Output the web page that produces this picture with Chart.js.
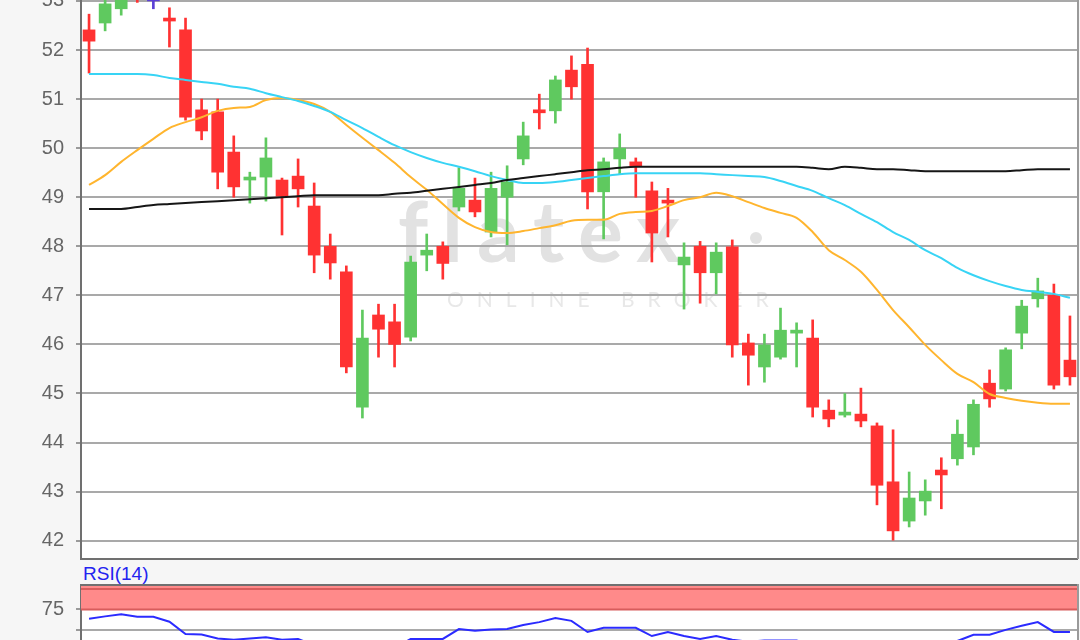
<!DOCTYPE html>
<html>
<head>
<meta charset="utf-8">
<title>Chandeliers + RSI</title>
<script src="https://cdn.jsdelivr.net/npm/chart.js@4.4.1/dist/chart.umd.min.js"></script>
<style>
    html, body { margin: 0; padding: 0; width: 1080px; height: 640px; overflow: hidden; background: #f6f6f6; }
    #cadre_prix { position: absolute; left: 0; top: -40px; width: 1080px; height: 600px; }
    #cadre_rsi  { position: absolute; left: 0; top: 584px; width: 1080px; height: 200px; }
    #titre_rsi  { position: absolute; left: 83px; top: 563px; font: 19px "Liberation Sans", Arial, sans-serif;
                  line-height: 22px; color: #2323f0; }
</style>
</head>
<body>
<div id="cadre_prix"><canvas id="figure_prix"></canvas></div>
<div id="titre_rsi">RSI(14)</div>
<div id="cadre_rsi"><canvas id="figure_rsi"></canvas></div>
<script>
// ── Données ─────────────────────────────────────────────────────────────────
var seances = ['1', '2', '3', '4', '5', '6', '7', '8', '9', '10',
    '11', '12', '13', '14', '15', '16', '17', '18', '19', '20',
    '21', '22', '23', '24', '25', '26', '27', '28', '29', '30',
    '31', '32', '33', '34', '35', '36', '37', '38', '39', '40',
    '41', '42', '43', '44', '45', '46', '47', '48', '49', '50',
    '51', '52', '53', '54', '55', '56', '57', '58', '59', '60',
    '61', '62'];

var ouvertures = [52.41, 52.55, 52.84, 53.40, 53.00, 52.65, 52.41, 50.78, 50.74, 49.92,
    49.35, 49.41, 49.35, 49.43, 48.82, 48.00, 47.48, 44.72, 46.60, 46.46,
    46.15, 47.82, 48.00, 48.80, 48.94, 48.29, 49.00, 49.78, 50.78, 50.76,
    51.59, 51.71, 49.11, 49.78, 49.72, 49.13, 48.94, 47.62, 48.00, 47.46,
    47.99, 46.03, 45.54, 45.74, 46.23, 46.13, 44.66, 44.56, 44.58, 44.34,
    43.20, 42.40, 42.81, 43.44, 43.67, 43.91, 45.21, 45.09, 46.23, 46.93,
    47.00, 45.68];

var hauts = [52.73, 53.10, 53.25, 53.50, 53.30, 52.86, 52.65, 51.00, 51.00, 50.25,
    49.51, 50.21, 49.39, 49.78, 49.29, 48.25, 47.60, 46.70, 46.82, 46.82,
    47.80, 48.25, 48.09, 49.60, 49.39, 49.51, 49.64, 50.53, 51.10, 51.47,
    51.88, 52.04, 49.80, 50.29, 49.80, 49.31, 49.18, 48.07, 48.10, 48.07,
    48.13, 46.21, 46.21, 46.74, 46.44, 46.50, 44.87, 45.00, 45.11, 44.40,
    44.26, 43.40, 43.24, 43.69, 44.46, 44.87, 45.48, 45.93, 46.90, 47.35,
    47.23, 46.58];

var bas = [51.53, 52.39, 52.71, 52.97, 52.84, 52.06, 50.57, 50.17, 49.17, 49.00,
    48.88, 48.92, 48.23, 48.80, 47.46, 47.33, 45.42, 44.50, 45.74, 45.54,
    46.07, 47.50, 47.33, 48.72, 48.60, 48.19, 48.03, 49.66, 50.39, 50.51,
    51.00, 48.76, 48.15, 49.47, 49.00, 47.68, 48.19, 46.72, 46.84, 47.03,
    45.74, 45.17, 45.23, 45.70, 45.54, 44.52, 44.32, 44.52, 44.32, 42.73,
    42.01, 42.28, 42.52, 42.65, 43.54, 43.75, 44.72, 45.05, 45.91, 46.76,
    45.09, 45.17];

var clotures = [52.18, 52.94, 53.10, 53.15, 53.00, 52.59, 50.63, 50.35, 49.51, 49.21,
    49.39, 49.80, 49.02, 49.17, 47.82, 47.66, 45.54, 46.13, 46.31, 46.00,
    47.68, 47.92, 47.65, 49.18, 48.70, 49.18, 49.31, 50.25, 50.72, 51.39,
    51.25, 49.11, 49.72, 50.00, 49.64, 48.27, 48.88, 47.78, 47.46, 47.88,
    45.99, 45.78, 45.99, 46.29, 46.27, 44.72, 44.48, 44.60, 44.44, 43.13,
    42.20, 42.87, 43.01, 43.34, 44.17, 44.78, 44.89, 45.89, 46.78, 47.09,
    45.17, 45.34];

// moyenne courte (orange)
var moyenneCourte = [49.25, 49.45, 49.72, 49.96, 50.19, 50.41, 50.53, 50.63, 50.76, 50.82,
    50.84, 50.98, 51.02, 50.98, 50.90, 50.74, 50.47, 50.21, 49.96, 49.70,
    49.41, 49.15, 48.86, 48.58, 48.39, 48.29, 48.27, 48.31, 48.37, 48.43,
    48.52, 48.54, 48.54, 48.66, 48.70, 48.72, 48.82, 48.94, 49.00, 49.09,
    49.02, 48.90, 48.78, 48.68, 48.58, 48.29, 47.92, 47.72, 47.48, 47.11,
    46.70, 46.35, 45.99, 45.68, 45.40, 45.23, 44.99, 44.91, 44.85, 44.81,
    44.79, 44.79];

// moyenne intermédiaire (cyan)
var moyenneMoyenne = [51.51, 51.51, 51.51, 51.51, 51.49, 51.43, 51.39, 51.35, 51.31, 51.25,
    51.21, 51.12, 51.04, 50.96, 50.86, 50.74, 50.57, 50.41, 50.23, 50.06,
    49.92, 49.80, 49.70, 49.62, 49.53, 49.43, 49.35, 49.29, 49.29, 49.31,
    49.35, 49.39, 49.43, 49.47, 49.49, 49.49, 49.49, 49.49, 49.49, 49.47,
    49.45, 49.43, 49.41, 49.33, 49.23, 49.13, 48.98, 48.84, 48.66, 48.49,
    48.29, 48.13, 47.92, 47.76, 47.56, 47.41, 47.29, 47.19, 47.11, 47.07,
    47.03, 46.95];

// moyenne longue (noir)
var moyenneLongue = [48.76, 48.76, 48.76, 48.80, 48.84, 48.86, 48.88, 48.90, 48.92, 48.94,
    48.96, 48.98, 49.00, 49.02, 49.04, 49.04, 49.04, 49.04, 49.04, 49.07,
    49.09, 49.13, 49.17, 49.21, 49.25, 49.29, 49.35, 49.39, 49.43, 49.47,
    49.51, 49.55, 49.57, 49.60, 49.62, 49.62, 49.62, 49.62, 49.62, 49.62,
    49.62, 49.62, 49.62, 49.62, 49.62, 49.60, 49.57, 49.62, 49.60, 49.57,
    49.57, 49.55, 49.53, 49.53, 49.53, 49.53, 49.53, 49.53, 49.55, 49.57,
    49.57, 49.57];

var rsi14 = [72.7, 73.3, 73.8, 73.2, 73.2, 72.0, 69.0, 68.9, 67.9, 67.6,
    67.9, 68.2, 67.6, 67.8, 66.3, 65.6, 63.9, 64.6, 65.1, 65.6,
    67.8, 67.8, 67.8, 70.2, 69.8, 70.1, 70.2, 71.2, 71.9, 72.9,
    72.2, 69.5, 70.5, 70.5, 70.5, 68.5, 69.5, 68.5, 67.8, 68.5,
    67.6, 67.1, 67.4, 67.4, 67.4, 66.3, 65.1, 64.6, 63.9, 62.7,
    61.5, 62.7, 63.9, 65.1, 67.3, 68.8, 68.8, 70.0, 71.0, 71.9,
    69.5, 69.5];

var niveauxPrix = [42, 43, 44, 45, 46, 47, 48, 49, 50, 51, 52, 53];
var niveauxRsi  = [75, 70];
var zoneSurachat = [75, 80];

(function () {

    // ── Couleurs ──────────────────────────────────────────────────────────────
    var VERT   = '#5fc95f';
    var ROUGE  = '#ff3232';
    var NEUTRE = '#5b3fd6';
    var POLICE = '"Liberation Sans", Arial, sans-serif';

    function couleurBougie(i) {
        if (clotures[i] > ouvertures[i]) return VERT;
        if (clotures[i] < ouvertures[i]) return ROUGE;
        return NEUTRE;
    }

    var couleurs = seances.map(function (s, i) { return couleurBougie(i); });
    var corps    = seances.map(function (s, i) { return [ouvertures[i], clotures[i]]; });
    var meches   = seances.map(function (s, i) { return [bas[i], hauts[i]]; });

    // ── Fond blanc, filigrane, cadre ──────────────────────────────────────────
    var fondPrix = {
        id: 'fondPrix',
        beforeDraw: function (chart) {
            var ctx = chart.ctx, a = chart.chartArea;
            ctx.save();
            ctx.fillStyle = '#ffffff';
            ctx.fillRect(a.left, a.top, a.right - a.left, a.bottom - a.top);
            // filigrane du courtier
            ctx.fillStyle = '#e2e2e2';
            ctx.font = 'bold 84px Lato';
            ctx.textBaseline = 'alphabetic';
            ctx.letterSpacing = '14px';
            ctx.fillText('flatex', 398, 302);
            ctx.beginPath();
            ctx.arc(756, 278, 6, 0, 2 * Math.PI);
            ctx.fill();
            ctx.fillStyle = '#e8e8e8';
            ctx.font = '21px Lato';
            ctx.letterSpacing = '13px';
            ctx.fillText('ONLINE BROKER', 447, 347);
            ctx.restore();
        },
        afterDraw: function (chart) {
            var ctx = chart.ctx, a = chart.chartArea;
            ctx.save();
            ctx.strokeStyle = '#707070';
            ctx.lineWidth = 2;
            ctx.beginPath();
            ctx.moveTo(a.left, a.bottom);
            ctx.lineTo(a.right, a.bottom);
            ctx.stroke();
            ctx.strokeStyle = '#9a9a9a';
            ctx.beginPath();
            ctx.moveTo(a.right, a.top);
            ctx.lineTo(a.right, a.bottom);
            ctx.stroke();
            ctx.restore();
        }
    };

    var fondRsi = {
        id: 'fondRsi',
        beforeDraw: function (chart) {
            var ctx = chart.ctx, a = chart.chartArea;
            ctx.save();
            ctx.fillStyle = '#ffffff';
            ctx.fillRect(a.left, a.top, a.right - a.left, a.bottom - a.top);
            ctx.restore();
        },
        beforeDatasetsDraw: function (chart) {
            var ctx = chart.ctx, a = chart.chartArea, y = chart.scales.y;
            var bas75 = y.getPixelForValue(zoneSurachat[0]);
            var haut80 = y.getPixelForValue(zoneSurachat[1]);
            ctx.save();
            ctx.fillStyle = '#ff8a8a';
            ctx.fillRect(a.left, a.top, a.right - a.left, bas75 - a.top);
            ctx.strokeStyle = '#d85c5c';
            ctx.lineWidth = 2;
            ctx.beginPath();
            ctx.moveTo(a.left, haut80);
            ctx.lineTo(a.right, haut80);
            ctx.moveTo(a.left, bas75);
            ctx.lineTo(a.right, bas75);
            ctx.stroke();
            ctx.restore();
        },
        afterDraw: function (chart) {
            var ctx = chart.ctx, a = chart.chartArea;
            ctx.save();
            ctx.strokeStyle = '#707070';
            ctx.lineWidth = 2;
            ctx.beginPath();
            ctx.moveTo(a.left, a.top + 1);
            ctx.lineTo(a.right, a.top + 1);
            ctx.stroke();
            ctx.strokeStyle = '#9a9a9a';
            ctx.beginPath();
            ctx.moveTo(a.right, a.top);
            ctx.lineTo(a.right, a.bottom);
            ctx.stroke();
            ctx.restore();
        }
    };

    function axeY(min, max, niveaux, etiquette) {
        return {
            min: min,
            max: max,
            afterBuildTicks: function (s) {
                s.ticks = niveaux.map(function (v) { return { value: v }; });
            },
            afterFit: function (s) {
                // largeur fixe de la marge gauche, pas de marge haute/basse
                s.width = 81;
                s.paddingTop = 0;
                s.paddingBottom = 0;
            },
            grid: { color: '#a9a9a9', lineWidth: 2, tickLength: 5, tickColor: '#9a9a9a' },
            border: { color: '#707070', width: 2 },
            ticks: {
                color: '#666666',
                padding: 12,
                font: { family: POLICE, size: 20 },
                callback: etiquette
            }
        };
    }

    // ── Graphique des cours ───────────────────────────────────────────────────
    new Chart(document.getElementById('figure_prix').getContext('2d'), {
        data: {
            labels: seances,
            datasets: [
                { type: 'line', data: moyenneLongue,  borderColor: '#161616', borderWidth: 2,
                  pointRadius: 0, cubicInterpolationMode: 'monotone', order: 0 },
                { type: 'line', data: moyenneMoyenne, borderColor: '#38d4f5', borderWidth: 2,
                  pointRadius: 0, cubicInterpolationMode: 'monotone', order: 0 },
                { type: 'line', data: moyenneCourte,  borderColor: '#ffb52e', borderWidth: 2,
                  pointRadius: 0, cubicInterpolationMode: 'monotone', order: 0 },
                { type: 'bar', data: corps,  backgroundColor: couleurs, barThickness: 12,
                  minBarLength: 3, grouped: false, order: 1 },
                { type: 'bar', data: meches, backgroundColor: couleurs, barThickness: 2,
                  grouped: false, order: 2 }
            ]
        },
        options: {
            responsive: true,
            maintainAspectRatio: false,
            animation: false,
            layout: { autoPadding: false, padding: { top: 0, left: 0, right: 2, bottom: 1 } },
            plugins: { legend: { display: false }, tooltip: { enabled: false } },
            scales: {
                x: { type: 'category', display: false, offset: true },
                y: axeY(41.627, 53.834, niveauxPrix, function (v) { return v; })
            }
        },
        plugins: [fondPrix]
    });

    // ── Graphique RSI ─────────────────────────────────────────────────────────
    new Chart(document.getElementById('figure_rsi').getContext('2d'), {
        type: 'line',
        data: {
            labels: seances,
            datasets: [{
                data: rsi14,
                borderColor: '#2b2bff',
                borderWidth: 2,
                pointRadius: 0,
                tension: 0
            }]
        },
        options: {
            responsive: true,
            maintainAspectRatio: false,
            animation: false,
            layout: { autoPadding: false, padding: { top: 0, left: 0, right: 2, bottom: 0 } },
            plugins: { legend: { display: false }, tooltip: { enabled: false } },
            scales: {
                x: { type: 'category', display: false, offset: true },
                y: axeY(32.4, 81.2, niveauxRsi, function (v) { return v === 75 ? '75' : ''; })
            }
        },
        plugins: [fondRsi]
    });

})();
</script>
</body>
</html>
